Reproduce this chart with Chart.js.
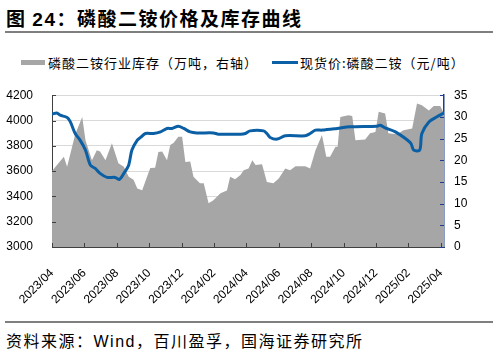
<!DOCTYPE html>
<html>
<head>
<meta charset="utf-8">
<script src="https://cdn.jsdelivr.net/npm/chart.js@4"></script>
<style>
  body { margin: 0; width: 498px; height: 354px; background: #fff; position: relative; overflow: hidden;
         font-family: "Noto Sans CJK SC", "Liberation Sans", sans-serif; color: #000; }
  #title { position: absolute; left: 6px; top: 4px; font-size: 19px; font-weight: bold; letter-spacing: 1.5px; white-space: nowrap; }
  #title .num { font-family: "Liberation Sans", Arial, sans-serif; }
  .rule { position: absolute; left: 5px; width: 488px; height: 2px; background: #7f7f7f; }
  #legend { position: absolute; top: 53px; left: 0; font-size: 13px; letter-spacing: 1px; white-space: nowrap; }
  #legend span { position: absolute; top: 0; }
  .swatch { position: absolute; }
  #source { position: absolute; left: 6px; top: 328px; font-size: 16px; letter-spacing: 1.5px; white-space: nowrap; }
  #source .lat { font-family: "Liberation Sans", Arial, sans-serif; }
  #wrap { position: absolute; left: 0; top: 69px; width: 498px; height: 251px; }
</style>
</head>
<body>
<div id="title">图 <span class="num">24</span>：磷酸二铵价格及库存曲线</div>
<div class="rule" style="top:31px"></div>
<div id="legend">
  <div class="swatch" style="left:21px; top:7px; width:24px; height:5px; background:#A6A6A6"></div>
  <span style="left:48px">磷酸二铵行业库存（万吨，右轴）</span>
  <div class="swatch" style="left:272px; top:8px; width:26px; height:3px; background:#0B5FA5"></div>
  <span style="left:300px">现货价:磷酸二铵（元/吨）</span>
</div>
<div id="wrap"><canvas id="chart"></canvas></div>
<div class="rule" style="top:321px"></div>
<div id="source">资料来源：<span class="lat">Wind</span>，百川盈孚，国海证券研究所</div>
<script>
// x axis labels (every two months)
const tickLabels = ['2023/04', '2023/06', '2023/08', '2023/10', '2023/12', '2024/02', '2024/04',
                    '2024/06', '2024/08', '2024/10', '2024/12', '2025/02', '2025/04'];

// 磷酸二铵行业库存（万吨，右轴）
const invDates = [
  '2023-04-01', '2023-04-23', '2023-04-29', '2023-05-14', '2023-05-27', '2023-06-03', '2023-06-15',
  '2023-06-24', '2023-06-30', '2023-07-10', '2023-07-22', '2023-08-04', '2023-08-14', '2023-08-23',
  '2023-09-02', '2023-09-09', '2023-09-18', '2023-09-27', '2023-10-03', '2023-10-12', '2023-10-18',
  '2023-10-25', '2023-11-04', '2023-11-10', '2023-11-16', '2023-11-25', '2023-12-02', '2023-12-08',
  '2023-12-17', '2023-12-23', '2024-01-05', '2024-01-12', '2024-01-21', '2024-01-30', '2024-02-13',
  '2024-02-25', '2024-03-01', '2024-03-10', '2024-03-20', '2024-03-26', '2024-04-05', '2024-04-12',
  '2024-04-18', '2024-04-30', '2024-05-09', '2024-05-21', '2024-05-31', '2024-06-13', '2024-06-22',
  '2024-07-02', '2024-07-20', '2024-07-29', '2024-08-09', '2024-08-21', '2024-08-29', '2024-09-06',
  '2024-09-16', '2024-09-20', '2024-09-25', '2024-10-10', '2024-10-17', '2024-10-23', '2024-11-11',
  '2024-11-20', '2024-11-30', '2024-12-06', '2024-12-18', '2024-12-24', '2025-01-10', '2025-01-22',
  '2025-02-08', '2025-02-17', '2025-02-26', '2025-03-09', '2025-03-18', '2025-03-30', '2025-04-07'
];
const invValues = [
  17.5, 20.8, 18.5, 26.0, 30.0, 24.6, 20.0,
  22.3, 22.0, 20.0, 23.9, 19.3, 18.5, 16.2,
  15.5, 13.5, 13.1, 16.2, 18.2, 18.3, 21.9,
  22.0, 20.0, 23.5, 24.0, 25.4, 25.4, 19.6,
  19.7, 16.2, 14.7, 14.7, 10.1, 10.8, 12.4,
  13.0, 16.2, 15.6, 16.6, 17.7, 18.1, 20.0,
  18.9, 19.1, 15.0, 14.7, 15.8, 18.1, 17.7,
  18.6, 18.6, 18.1, 22.3, 25.8, 20.8, 20.8,
  23.1, 23.1, 30.0, 30.4, 30.2, 24.6, 24.8,
  26.2, 26.5, 31.2, 30.8, 26.2, 26.0, 26.9,
  27.3, 33.1, 32.7, 31.5, 32.5, 32.5, 30.8
];

// 现货价:磷酸二铵（元/吨）
const priceDates = [
  '2023-04-01', '2023-04-10', '2023-04-16', '2023-04-29', '2023-05-05', '2023-05-14', '2023-05-23',
  '2023-06-03', '2023-06-12', '2023-06-21', '2023-06-30', '2023-07-13', '2023-07-28', '2023-08-06',
  '2023-08-14', '2023-08-23', '2023-08-29', '2023-09-09', '2023-09-15', '2023-09-24', '2023-10-09',
  '2023-10-22', '2023-11-04', '2023-11-13', '2023-11-25', '2023-12-05', '2023-12-17', '2023-12-29',
  '2024-01-30', '2024-02-09', '2024-03-20', '2024-03-29', '2024-04-08', '2024-05-03', '2024-05-09',
  '2024-05-15', '2024-05-28', '2024-06-13', '2024-07-20', '2024-07-29', '2024-08-09', '2024-08-21',
  '2024-09-19', '2024-10-13', '2024-12-03', '2024-12-09', '2024-12-18', '2025-01-07', '2025-02-05',
  '2025-02-11', '2025-02-22', '2025-02-26', '2025-03-09', '2025-03-24', '2025-04-07'
];
const priceValues = [
  4050, 4060, 4042, 4024, 3989, 3897, 3845,
  3766, 3647, 3621, 3582, 3550, 3550, 3534,
  3582, 3647, 3766, 3845, 3866, 3897, 3897,
  3910, 3937, 3937, 3955, 3937, 3910, 3902,
  3902, 3892, 3892, 3897, 3918, 3918, 3897,
  3866, 3853, 3879, 3879, 3897, 3924, 3924,
  3937, 3950, 3955, 3963, 3942, 3910, 3823,
  3766, 3766, 3897, 3989, 4029, 4060
];

// months since 2023/04
function monthPos(s) {
  const p = s.split(/[-\/]/).map(Number);
  return (p[0] - 2023) * 12 + (p[1] - 4) + ((p[2] || 1) - 1) / 30;
}

const numFont = { family: '"Liberation Sans", Arial, sans-serif', size: 12 };

// small tick marks pointing into the plot
const innerTicks = {
  id: 'innerTicks',
  afterDatasetsDraw(chart) {
    const { ctx, chartArea, scales } = chart;
    ctx.save();
    ctx.lineWidth = 1;
    ctx.strokeStyle = '#404040';
    scales.x.ticks.forEach(t => {
      const x = Math.round(scales.x.getPixelForValue(t.value)) + 0.5;
      ctx.beginPath(); ctx.moveTo(x, chartArea.bottom); ctx.lineTo(x, chartArea.bottom - 4); ctx.stroke();
    });
    scales.y.ticks.forEach(t => {
      const y = Math.round(scales.y.getPixelForValue(t.value)) + 0.5;
      ctx.beginPath(); ctx.moveTo(chartArea.left, y); ctx.lineTo(chartArea.left + 4, y); ctx.stroke();
    });
    ctx.strokeStyle = '#1F3D8C';
    scales.y1.ticks.forEach(t => {
      const y = Math.round(scales.y1.getPixelForValue(t.value)) + 0.5;
      ctx.beginPath(); ctx.moveTo(chartArea.right, y); ctx.lineTo(chartArea.right - 4, y); ctx.stroke();
    });
    ctx.restore();
  }
};

new Chart(document.getElementById('chart'), {
  type: 'line',
  data: {
    datasets: [
      {
        label: '现货价:磷酸二铵（元/吨）',
        data: priceDates.map((d, i) => ({ x: monthPos(d), y: priceValues[i] })),
        yAxisID: 'y',
        borderColor: '#0B5FA5',
        borderWidth: 3,
        pointRadius: 0,
        tension: 0.3,
        fill: false,
        order: 1
      },
      {
        label: '磷酸二铵行业库存（万吨，右轴）',
        data: invDates.map((d, i) => ({ x: monthPos(d), y: invValues[i] })),
        yAxisID: 'y1',
        borderWidth: 0,
        backgroundColor: '#A6A6A6',
        pointRadius: 0,
        tension: 0,
        fill: 'start',
        order: 2
      }
    ]
  },
  options: {
    responsive: true,
    maintainAspectRatio: false,
    animation: false,
    layout: { padding: { top: 15, left: 0, right: 0, bottom: 0 } },
    plugins: { legend: { display: false }, tooltip: { enabled: false } },
    scales: {
      x: {
        type: 'linear',
        min: 0,
        max: monthPos('2025-04-07'),
        grid: { display: false, drawTicks: false },
        border: { color: '#404040', width: 1 },
        afterBuildTicks: s => { s.ticks = tickLabels.map(l => ({ value: monthPos(l) })); },
        afterFit: s => { s.height = 73; },
        ticks: {
          autoSkip: false,
          minRotation: 45,
          maxRotation: 45,
          padding: 19,
          color: '#000',
          font: numFont,
          callback: (v, i) => tickLabels[i]
        }
      },
      y: {
        position: 'left',
        min: 3000,
        max: 4200,
        grid: { color: '#D9D9D9', drawTicks: false },
        border: { color: '#404040', width: 1 },
        afterFit: s => { s.width = 52; },
        ticks: { stepSize: 200, padding: 19, color: '#000', font: numFont, callback: v => String(v) }
      },
      y1: {
        position: 'right',
        min: 0,
        max: 35,
        grid: { drawOnChartArea: false, drawTicks: false },
        border: { color: '#1F3D8C', width: 1.5 },
        afterFit: s => { s.width = 54; },
        ticks: { stepSize: 5, padding: 10, color: '#000', font: numFont, callback: v => String(v) }
      }
    }
  },
  plugins: [innerTicks]
});
</script>
</body>
</html>
